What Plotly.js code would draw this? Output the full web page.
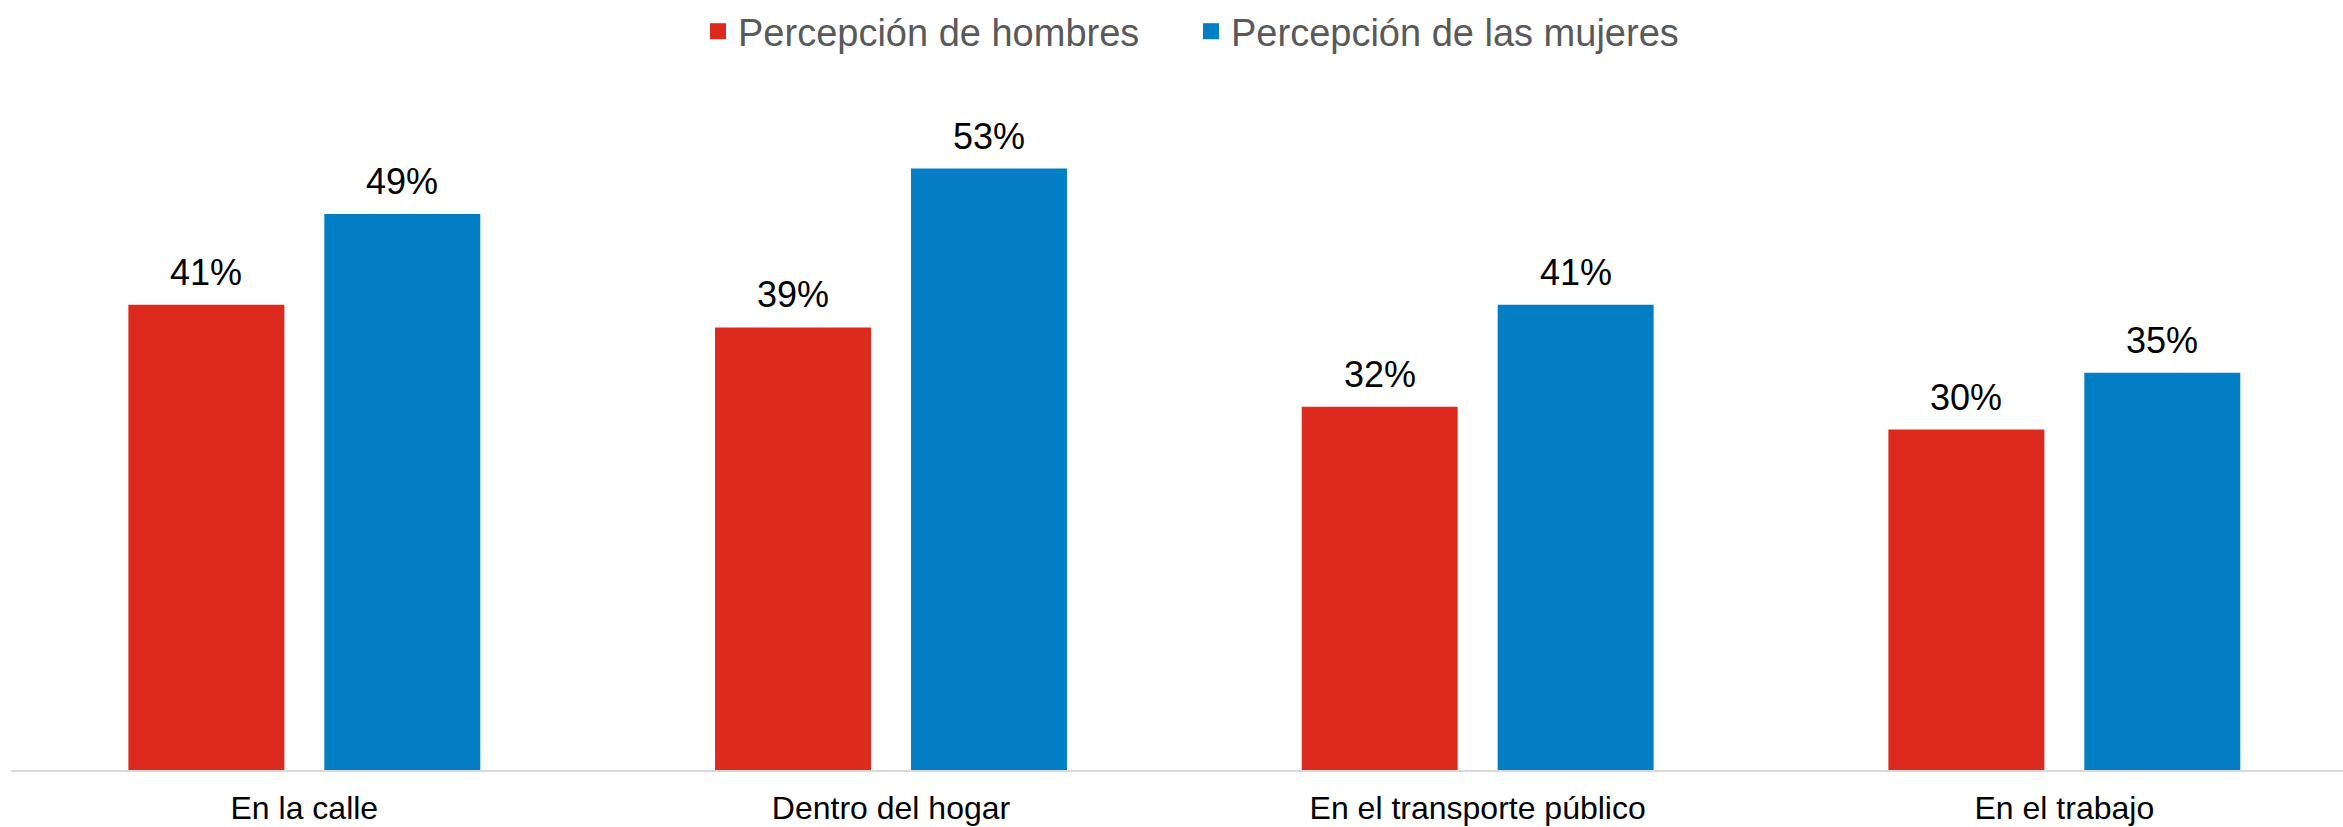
<!DOCTYPE html>
<html>
<head>
<meta charset="utf-8">
<script src="https://cdn.plot.ly/plotly-3.0.1.min.js"></script>
<style>html,body{margin:0;padding:0;background:#fff;}#chart{width:2343px;height:827px;}</style>
</head>
<body>
<div id="chart"></div>
<script>
const categories = ["En la calle", "Dentro del hogar", "En el transporte público", "En el trabajo"];
const seriesNames = ["Percepción de hombres", "Percepción de las mujeres"];
const hombres = [41, 39, 32, 30];
const mujeres = [49, 53, 41, 35];
const colors = ["#DC2A1F", "#027EC4"];

const FONT = "Liberation Sans, Arial, sans-serif";

const barTraces = [hombres, mujeres].map((vals, i) => ({
  type: "bar",
  name: seriesNames[i],
  x: categories,
  y: vals,
  marker: {color: colors[i]},
  showlegend: false,
  hoverinfo: "skip"
}));

const legendTraces = seriesNames.map((n, i) => ({
  type: "scatter",
  mode: "markers",
  name: n,
  x: [null], y: [null],
  marker: {symbol: "square", size: 18, color: colors[i]},
  showlegend: true,
  hoverinfo: "skip"
}));

const annotations = [];
[hombres, mujeres].forEach((vals, i) => {
  vals.forEach((v, j) => {
    annotations.push({
      x: j, y: v, xref: "x", yref: "y",
      xshift: (i === 0 ? -1 : 1) * 98,
      text: v + "%",
      showarrow: false,
      yanchor: "bottom",
      yshift: 10,
      font: {family: FONT, size: 36, color: "#000"}
    });
  });
});

const layout = {
  width: 2343, height: 827,
  margin: {l: 11, r: 0, t: 60, b: 57},
  paper_bgcolor: "#fff", plot_bgcolor: "#fff",
  barmode: "group",
  bargap: 0.332,
  bargroupgap: 0.204,
  showlegend: true,
  legend: {
    orientation: "h",
    x: 0.506, xanchor: "center",
    y: 1, yanchor: "top", yref: "container",
    entrywidth: 448,
    itemwidth: 30,
    font: {family: FONT, size: 38, color: "#595959"},
    bgcolor: "rgba(0,0,0,0)"
  },
  xaxis: {
    type: "category",
    range: [-0.5, 3.475],
    showline: true, linecolor: "#d9d9d9", linewidth: 2,
    showgrid: false, zeroline: false,
    ticks: "outside", ticklen: 9, tickcolor: "rgba(0,0,0,0)",
    tickfont: {family: FONT, size: 32, color: "#000"},
    fixedrange: true
  },
  yaxis: {
    range: [0, 62.3],
    visible: false,
    showgrid: false, zeroline: false,
    fixedrange: true
  },
  annotations: annotations
};

Plotly.newPlot("chart", barTraces.concat(legendTraces), layout, {displayModeBar: false, staticPlot: true});
</script>
</body>
</html>
